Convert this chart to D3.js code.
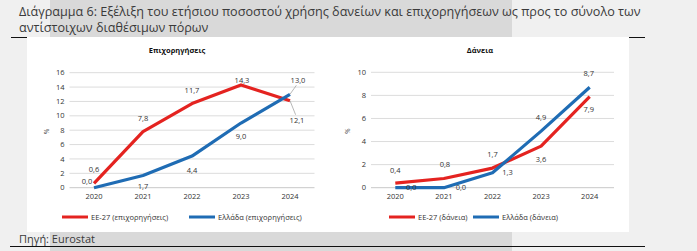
<!DOCTYPE html>
<html>
<head>
<meta charset="utf-8">
<script src="https://cdn.jsdelivr.net/npm/d3@7.9.0/dist/d3.min.js"></script>
<style>
  html, body { margin: 0; padding: 0; background: #f0f0f0; }
  svg { display: block; }
  text { font-family: 'Open Sans', sans-serif; fill: #333; }
</style>
</head>
<body>
<svg id="chart" width="697" height="251"></svg>
<script>
// data
const years = ['2020', '2021', '2022', '2023', '2024'];
const grantsEU = [0.6, 7.8, 11.7, 14.3, 12.1];
const grantsGR = [0.0, 1.7, 4.4, 9.0, 13.0];
const loansEU = [0.4, 0.8, 1.7, 3.6, 7.9];
const loansGR = [0.0, 0.0, 1.3, 4.9, 8.7];
const grantsTicks = [0, 2, 4, 6, 8, 10, 12, 14, 16];
const loansTicks = [0, 2, 4, 6, 8, 10];

// label placement per point: [dx, dy] offsets of label centre from point
const grantsEUPos = [[0, -14], [0, -13], [0, -13], [1, -5], [7, 20]];
const grantsGRPos = [[-7, -6], [0, 11], [0, 14], [0, 13], [8, -14]];
const loansEUPos = [[0, -13], [1, -14], [0, -14], [0, 13], [-1, 13]];
const loansGRPos = [[16, 0], [17, 0], [15, 0], [0, -14], [-1, -14]];

const red = '#e42320';
const blue = '#1f6cb4';

const svg = d3.select('#chart');

// background bands
svg.append('rect').attr('x', 50).attr('y', 0).attr('width', 462).attr('height', 37).attr('fill', '#d9d9d9');
svg.append('rect').attr('x', 50).attr('y', 232).attr('width', 462).attr('height', 19).attr('fill', '#d9d9d9');
svg.append('line').attr('x1', 11).attr('x2', 645).attr('y1', 37.5).attr('y2', 37.5).attr('stroke', '#111').attr('stroke-width', 1.2);
svg.append('line').attr('x1', 10).attr('x2', 645).attr('y1', 246.5).attr('y2', 246.5).attr('stroke', '#111').attr('stroke-width', 1.2);
svg.append('rect').attr('x', 27).attr('y', 37).attr('width', 602).attr('height', 195).attr('fill', '#fff');

// title
svg.append('text').attr('x', 19).attr('y', 16)
  .style('font-size', '12.6px').style('fill', '#3a3a3a')
  .text('Διάγραμμα 6: Εξέλιξη του ετήσιου ποσοστού χρήσης δανείων και επιχορηγήσεων ως προς το σύνολο των');
svg.append('text').attr('x', 19).attr('y', 32)
  .style('font-size', '12.6px').style('fill', '#3a3a3a')
  .text('αντίστοιχων διαθέσιμων πόρων');
svg.append('text').attr('x', 19).attr('y', 243)
  .style('font-size', '11px').style('fill', '#3a3a3a')
  .text('Πηγή: Eurostat');

const fmt = v => d3.format('.1f')(v).replace('.', ',');

function drawPanel(opts) {
  const g = svg.append('g');
  const x = d3.scaleBand().domain(years).range(opts.xRange).padding(0);
  const y = d3.scaleLinear().domain([0, d3.max(opts.ticks)]).range([187.7, opts.yTop]);
  const cx = d => x(d) + x.bandwidth() / 2;

  g.append('text').attr('x', opts.titleX).attr('y', 53)
    .attr('text-anchor', 'middle')
    .style('font-size', '7.5px').style('font-weight', 'bold').style('fill', '#111')
    .text(opts.title);

  // grid
  g.selectAll('.grid').data(opts.ticks).enter().append('line')
    .attr('x1', opts.xRange[0]).attr('x2', opts.xRange[1])
    .attr('y1', d => y(d)).attr('y2', d => y(d))
    .attr('stroke', d => d === 0 ? '#c8c8c8' : '#dcdcdc').attr('stroke-width', 1);

  g.selectAll('.ytick').data(opts.ticks).enter().append('text')
    .attr('x', opts.xRange[0] - 5).attr('y', d => y(d)).attr('dy', '0.35em')
    .attr('text-anchor', 'end')
    .style('font-size', '7.5px')
    .text(d => d);

  g.selectAll('.xtick').data(years).enter().append('text')
    .attr('x', d => cx(d)).attr('y', 196).attr('dy', '0.35em')
    .attr('text-anchor', 'middle')
    .style('font-size', '7.5px')
    .text(d => d);

  g.append('text')
    .attr('transform', `translate(${opts.xRange[0] - 23},${y(d3.max(opts.ticks) / 2) + 1}) rotate(-90)`)
    .attr('text-anchor', 'middle').attr('dy', '0.35em')
    .style('font-size', '6.5px')
    .text('%');

  const line = d3.line().x((d, i) => cx(years[i])).y(d => y(d));

  opts.series.forEach(s => {
    g.append('path').datum(s.values)
      .attr('d', line)
      .attr('fill', 'none').attr('stroke', s.color).attr('stroke-width', 3.2)
      .attr('stroke-linejoin', 'round');
  });

  opts.series.forEach(s => {
    s.values.forEach((v, i) => {
      const px = cx(years[i]), py = y(v);
      const [dx, dy] = s.pos[i];
      if (s.leader && s.leader[i]) {
        g.append('line')
          .attr('x1', px).attr('y1', py)
          .attr('x2', px + dx * 0.8).attr('y2', py + dy + (dy > 0 ? -6 : 5))
          .attr('stroke', '#999').attr('stroke-width', 0.7);
      }
      g.append('text')
        .attr('x', px + dx).attr('y', py + dy).attr('dy', '0.35em')
        .attr('text-anchor', 'middle')
        .style('font-size', '7.5px')
        .text(fmt(v));
    });
  });

  // legend
  opts.series.forEach((s, i) => {
    const lx = opts.legendX[i];
    g.append('line').attr('x1', lx).attr('x2', lx + 26).attr('y1', 217).attr('y2', 217)
      .attr('stroke', s.color).attr('stroke-width', 3);
    g.append('text').attr('x', lx + 29).attr('y', 217).attr('dy', '0.35em')
      .style('font-size', '7.5px')
      .text(s.name);
  });
}

drawPanel({
  title: 'Επιχορηγήσεις', titleX: 177,
  xRange: [69.5, 314.5], yTop: 72.7, ticks: grantsTicks,
  legendX: [62, 189],
  series: [
    { name: 'ΕΕ-27 (επιχορηγήσεις)', values: grantsEU, color: red, pos: grantsEUPos, leader: [0, 0, 0, 0, 1] },
    { name: 'Ελλάδα (επιχορηγήσεις)', values: grantsGR, color: blue, pos: grantsGRPos, leader: [0, 0, 0, 0, 1] }
  ]
});

drawPanel({
  title: 'Δάνεια', titleX: 480,
  xRange: [371, 614], yTop: 72.3, ticks: loansTicks,
  legendX: [389, 473],
  series: [
    { name: 'ΕΕ-27 (δάνεια)', values: loansEU, color: red, pos: loansEUPos },
    { name: 'Ελλάδα (δάνεια)', values: loansGR, color: blue, pos: loansGRPos }
  ]
});
</script>
</body>
</html>
